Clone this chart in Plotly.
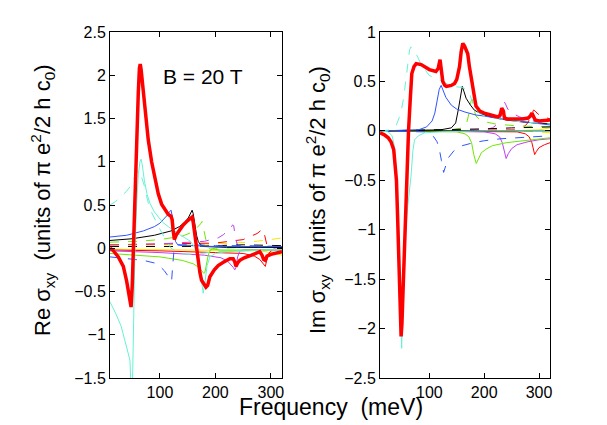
import plotly.graph_objects as go

# ---------------- Re sigma_xy (left panel) ----------------
re_total_f = [10, 15, 25, 34, 40, 44, 46, 48, 50, 52, 55, 58, 61, 63, 64.5, 66, 69, 73, 79, 85, 91, 97, 103, 109, 115,
              120, 122, 124, 126, 130, 136, 142, 150, 156, 158, 160, 163, 166, 169, 172, 175, 180, 183, 186, 190, 198,
              205, 215, 226, 232, 235, 237, 240, 244, 252, 265, 280, 284, 287, 290, 293, 300, 310, 320]
re_total_v = [0.0, -0.02, -0.1, -0.21, -0.38, -0.52, -0.6, -0.68, -0.45, -0.02, 0.7, 1.2, 1.8, 2.08, 2.13, 2.07, 1.88,
              1.62, 1.25, 1.0, 0.8, 0.63, 0.51, 0.44, 0.39, 0.37, 0.33, 0.2, 0.1, 0.16, 0.22, 0.27, 0.32, 0.35, 0.36,
              0.3, 0.15, -0.02, -0.17, -0.28, -0.37, -0.41, -0.45, -0.43, -0.33, -0.25, -0.2, -0.16, -0.12, -0.12,
              -0.16, -0.21, -0.17, -0.14, -0.11, -0.08, -0.04, -0.08, -0.13, -0.14, -0.09, -0.07, -0.05, -0.04]

re_cyan_f = [10, 20, 30, 38, 43, 46, 48, 49.5, 51, 53, 55, 58, 61, 64, 66, 68, 72, 77, 82, 90, 97, 105, 115, 125, 135,
             145, 155, 162, 167, 171, 174, 176, 178, 181, 185, 190, 200, 220, 250, 290, 320]
re_cyan_v = [-0.62, -0.75, -0.9, -1.08, -1.22, -1.3, -1.55, -1.9, -1.4, -0.6, 0.0, 0.5, 0.85, 1.0, 1.03, 0.97, 0.78,
             0.62, 0.52, 0.42, 0.36, 0.3, 0.25, 0.2, 0.16, 0.12, 0.08, 0.02, -0.08, -0.2, -0.33, -0.45, -0.52, -0.4,
             -0.2, -0.1, -0.06, -0.04, -0.03, -0.02, -0.02]

re_cyan_d_f = [10, 20, 30, 40, 46, 50, 53, 56, 60, 64, 68, 72, 76, 80, 86, 92, 100, 110, 120, 135, 150, 175, 200, 250, 320]
re_cyan_d_v = [0.5, 0.54, 0.6, 0.66, 0.71, 0.75, 0.8, 0.85, 0.9, 0.88, 0.8, 0.72, 0.6, 0.5, 0.4, 0.33, 0.22, 0.1, 0.0,
               -0.06, -0.07, -0.06, -0.04, -0.03, -0.02]

re_blue_f = [10, 40, 70, 90, 100, 108, 113, 117, 120, 122, 124, 126, 128, 132, 140, 160, 200, 260, 320]
re_blue_v = [0.13, 0.15, 0.2, 0.25, 0.29, 0.34, 0.38, 0.42, 0.44, 0.38, 0.25, 0.15, 0.08, 0.04, 0.03, 0.03, 0.02, 0.02, 0.02]

re_blue_d_f = [10, 40, 70, 90, 100, 108, 114, 118, 121, 123, 125, 128, 132, 140, 160, 200, 260, 320]
re_blue_d_v = [-0.1, -0.12, -0.14, -0.17, -0.21, -0.26, -0.31, -0.35, -0.38, -0.2, -0.05, 0.02, 0.04, 0.04, 0.04, 0.03,
               0.03, 0.02]

re_black_f = [10, 50, 90, 120, 135, 145, 151, 155, 158, 160, 163, 166, 169, 173, 180, 220, 320]
re_black_v = [0.09, 0.11, 0.15, 0.2, 0.25, 0.3, 0.35, 0.4, 0.44, 0.4, 0.27, 0.15, 0.08, 0.04, 0.02, 0.01, 0.01]

re_black_d_f = [10, 100, 160, 200, 250, 320]
re_black_d_v = [0.02, 0.02, 0.02, 0.03, 0.04, 0.03]

re_green_f = [10, 60, 100, 140, 160, 170, 175, 179, 181, 184, 187, 191, 195, 210, 250, 320]
re_green_v = [-0.06, -0.08, -0.1, -0.14, -0.18, -0.22, -0.26, -0.29, -0.28, -0.18, -0.08, -0.02, -0.01, -0.02, -0.02, -0.02]

re_green_d_f = [10, 60, 100, 140, 160, 168, 173, 176, 178, 181, 185, 190, 200, 250, 320]
re_green_d_v = [0.07, 0.08, 0.1, 0.14, 0.19, 0.24, 0.28, 0.31, 0.25, 0.12, 0.03, -0.01, 0.0, 0.01, 0.01]

re_mag_f = [10, 100, 180, 210, 222, 228, 232, 235, 237, 240, 244, 250, 280, 320]
re_mag_v = [-0.03, -0.05, -0.08, -0.11, -0.15, -0.19, -0.22, -0.25, -0.22, -0.1, -0.03, -0.02, -0.02, -0.02]

re_mag_d_f = [10, 100, 180, 205, 215, 222, 228, 231, 233, 236, 240, 246, 260, 320]
re_mag_d_v = [0.04, 0.05, 0.08, 0.12, 0.16, 0.2, 0.24, 0.27, 0.26, 0.12, 0.03, 0.0, 0.01, 0.01]

re_red_f = [10, 100, 200, 250, 270, 280, 285, 288, 290, 292, 295, 300, 320]
re_red_v = [-0.02, -0.03, -0.05, -0.06, -0.09, -0.13, -0.17, -0.2, -0.21, -0.15, -0.07, -0.03, -0.02]

re_red_d_f = [10, 100, 200, 250, 265, 275, 281, 285, 287, 290, 293, 300, 320]
re_red_d_v = [0.04, 0.05, 0.06, 0.1, 0.14, 0.17, 0.2, 0.22, 0.2, 0.1, 0.03, 0.0, 0.01]

re_yel_f = [10, 100, 200, 280, 300, 320]
re_yel_v = [-0.01, -0.015, -0.02, -0.03, -0.05, -0.08]

re_yel_d_f = [10, 100, 200, 260, 290, 310, 320]
re_yel_d_v = [0.03, 0.04, 0.05, 0.07, 0.09, 0.11, 0.12]

# ---------------- Im sigma_xy (right panel) ----------------
im_total_f = [10, 18, 25, 30, 35, 38.5, 40, 42, 44, 46, 48.5, 50, 52, 54, 56, 58, 60, 62, 65, 68, 72, 76, 85, 100, 112,
              116, 119.5, 122, 124.5, 128, 131, 140, 146, 150, 155, 158, 161, 164, 167, 170, 173, 176, 180, 185, 192,
              200, 212, 225, 229, 232, 235, 237, 242, 256, 270, 280, 284, 287, 290, 293, 300, 320]
im_total_v = [-0.02, -0.04, -0.07, -0.11, -0.19, -0.4, -0.5, -0.85, -1.24, -1.65, -2.08, -1.95, -1.6, -1.2, -0.85,
              -0.5, -0.22, 0.0, 0.3, 0.58, 0.65, 0.68, 0.67, 0.62, 0.6, 0.63, 0.72, 0.6, 0.5, 0.46, 0.45, 0.46, 0.48,
              0.52, 0.65, 0.8, 0.885, 0.86, 0.82, 0.78, 0.65, 0.55, 0.38, 0.25, 0.2, 0.18, 0.16, 0.14, 0.16, 0.23,
              0.2, 0.13, 0.12, 0.12, 0.12, 0.13, 0.15, 0.18, 0.14, 0.11, 0.1, 0.11]

im_cyan_f = [10, 25, 32, 36, 39, 42, 44.5, 47, 49.5, 52, 56, 60, 63, 66.5, 70, 73, 80, 91, 120, 200, 320]
im_cyan_v = [0.0, -0.01, -0.05, -0.15, -0.4, -0.8, -1.24, -1.75, -2.2, -1.6, -1.1, -0.8, -0.65, -0.46, -0.2, -0.09,
             -0.05, -0.02, -0.01, 0.0, 0.0]

im_cyan_d_f = [10, 30, 40, 48, 53, 57.5, 61, 64, 66.5, 70, 76, 85, 100, 125, 140, 160, 172, 178, 185, 200, 250, 320]
im_cyan_d_v = [0.0, 0.01, 0.06, 0.18, 0.33, 0.51, 0.7, 0.82, 0.85, 0.82, 0.78, 0.67, 0.56, 0.5, 0.45, 0.44, 0.4, 0.3,
               0.2, 0.15, 0.1, 0.07]

im_blue_f = [10, 80, 95, 105, 110, 115, 118, 121.5, 125, 130, 140, 150, 165, 185, 200, 230, 260, 290, 320]
im_blue_v = [0.0, 0.01, 0.04, 0.1, 0.18, 0.32, 0.42, 0.46, 0.41, 0.34, 0.26, 0.22, 0.19, 0.16, 0.15, 0.12, 0.1, 0.08, 0.06]

im_blue_d_f = [10, 90, 100, 108, 114, 118, 122, 126, 130, 135, 145, 160, 180, 200, 230, 260, 290, 320]
im_blue_d_v = [0.0, -0.01, -0.03, -0.06, -0.11, -0.18, -0.3, -0.42, -0.35, -0.27, -0.2, -0.15, -0.12, -0.1, -0.08,
               -0.07, -0.06, -0.05]

im_black_f = [10, 120, 140, 148, 153, 157, 160, 163, 167, 175, 182, 195, 213, 240, 270, 320]
im_black_v = [0.0, 0.01, 0.03, 0.08, 0.22, 0.38, 0.45, 0.4, 0.33, 0.26, 0.21, 0.17, 0.14, 0.11, 0.09, 0.07]

im_black_d_f = [10, 160, 200, 250, 320]
im_black_d_v = [0.0, 0.01, 0.02, 0.03, 0.04]

im_zero_f = [10, 320]
im_zero_v = [0.0, 0.0]

im_green_f = [10, 150, 165, 172, 177, 181, 185.5, 190, 195, 205, 215, 240, 270, 320]
im_green_v = [0.0, -0.01, -0.03, -0.06, -0.12, -0.24, -0.33, -0.27, -0.22, -0.18, -0.15, -0.12, -0.1, -0.07]

im_green_d_f = [10, 140, 160, 168, 172, 176, 178, 181, 185, 195, 220, 260, 320]
im_green_d_v = [0.0, 0.01, 0.03, 0.08, 0.17, 0.3, 0.32, 0.22, 0.15, 0.1, 0.07, 0.05, 0.04]

im_mag_f = [10, 200, 220, 228, 233, 237, 240, 244, 250, 260, 280, 300, 320]
im_mag_v = [0.0, -0.01, -0.03, -0.06, -0.12, -0.22, -0.28, -0.23, -0.18, -0.14, -0.11, -0.09, -0.08]

im_mag_d_f = [10, 200, 215, 225, 230, 233, 236, 239, 243, 250, 265, 290, 320]
im_mag_d_v = [0.0, 0.01, 0.03, 0.07, 0.14, 0.23, 0.3, 0.27, 0.22, 0.18, 0.14, 0.1, 0.08]

im_red_f = [10, 260, 275, 282, 287, 290, 292, 295, 300, 310, 320]
im_red_v = [0.0, -0.01, -0.03, -0.06, -0.12, -0.2, -0.24, -0.21, -0.17, -0.14, -0.12]

im_red_d_f = [10, 255, 270, 278, 283, 287, 290, 293, 298, 310, 320]
im_red_d_v = [0.0, 0.01, 0.03, 0.07, 0.12, 0.18, 0.21, 0.2, 0.17, 0.14, 0.12]

im_yel_f = [10, 250, 300, 320]
im_yel_v = [0.0, 0.0, 0.01, 0.03]

im_yel_d_f = [10, 250, 300, 320]
im_yel_d_v = [0.0, 0.0, -0.01, -0.02]

x_ticks = [100, 200, 300]
re_ticks = [-1.5, -1, -0.5, 0, 0.5, 1, 1.5, 2, 2.5]
im_ticks = [-2.5, -2, -1.5, -1, -0.5, 0, 0.5, 1]

AQUA = "#66f2d4"
BLUE = "#2f55ff"
GREEN = "#6ee800"
MAGENTA = "#c040f0"
RED = "#ff0000"
YELLOW = "#f2e600"
BLACK = "#000000"

# (f, v, colour, dash, width)
left_curves = [
    (re_yel_f, re_yel_v, YELLOW, "solid", 1),
    (re_yel_d_f, re_yel_d_v, YELLOW, "dash", 1),
    (re_red_f, re_red_v, RED, "solid", 1),
    (re_red_d_f, re_red_d_v, RED, "dash", 1),
    (re_mag_f, re_mag_v, MAGENTA, "solid", 1),
    (re_mag_d_f, re_mag_d_v, MAGENTA, "dash", 1),
    (re_green_f, re_green_v, GREEN, "solid", 1),
    (re_green_d_f, re_green_d_v, GREEN, "dash", 1),
    (re_black_d_f, re_black_d_v, BLACK, "dash", 1),
    (re_black_f, re_black_v, BLACK, "solid", 1),
    (re_blue_f, re_blue_v, BLUE, "solid", 1),
    (re_blue_d_f, re_blue_d_v, BLUE, "dash", 1),
    (re_cyan_d_f, re_cyan_d_v, AQUA, "dash", 1),
    (re_cyan_f, re_cyan_v, AQUA, "solid", 1),
    (re_total_f, re_total_v, RED, "solid", 3.5),
]

right_curves = [
    (im_yel_f, im_yel_v, YELLOW, "solid", 1),
    (im_yel_d_f, im_yel_d_v, YELLOW, "dash", 1),
    (im_red_f, im_red_v, RED, "solid", 1),
    (im_red_d_f, im_red_d_v, RED, "dash", 1),
    (im_mag_f, im_mag_v, MAGENTA, "solid", 1),
    (im_mag_d_f, im_mag_d_v, MAGENTA, "dash", 1),
    (im_green_f, im_green_v, GREEN, "solid", 1),
    (im_green_d_f, im_green_d_v, GREEN, "dash", 1),
    (im_black_d_f, im_black_d_v, BLACK, "dash", 1),
    (im_zero_f, im_zero_v, BLACK, "solid", 1),
    (im_black_f, im_black_v, BLACK, "solid", 1),
    (im_blue_f, im_blue_v, BLUE, "solid", 1),
    (im_blue_d_f, im_blue_d_v, BLUE, "dash", 1),
    (im_cyan_d_f, im_cyan_d_v, AQUA, "dash", 1),
    (im_cyan_f, im_cyan_v, AQUA, "solid", 1),
    (im_total_f, im_total_v, RED, "solid", 3.5),
]

fig = go.Figure()

for curves, xa, ya in [(left_curves, "x", "y"), (right_curves, "x2", "y2")]:
    for f, v, color, dash, width in curves:
        assert len(f) == len(v)
        fig.add_trace(go.Scatter(x=f, y=v, mode="lines", xaxis=xa, yaxis=ya, showlegend=False,
                                 line=dict(color=color, dash=dash, width=width), hoverinfo="skip"))

FONT = "Liberation Sans, Arial, Helvetica, sans-serif"
W, H = 607, 425

axis_common = dict(showline=True, linecolor="black", linewidth=1, mirror="ticks", ticks="inside", ticklen=5,
                   tickcolor="black", showgrid=False, zeroline=False, automargin=False,
                   tickfont=dict(family=FONT, size=16, color="black"))

fig.update_layout(
    width=W, height=H,
    margin=dict(l=0, r=0, t=0, b=0),
    paper_bgcolor="white", plot_bgcolor="white",
    font=dict(family=FONT, color="black"),
    xaxis=dict(domain=[110 / W, 282 / W], range=[10, 320], tickvals=x_ticks, anchor="y", **axis_common),
    yaxis=dict(domain=[1 - 378 / H, 1 - 32 / H], range=[-1.5, 2.5], tickvals=re_ticks, anchor="x", **axis_common),
    xaxis2=dict(domain=[380 / W, 550 / W], range=[10, 320], tickvals=x_ticks, anchor="y2", **axis_common),
    yaxis2=dict(domain=[1 - 378 / H, 1 - 32 / H], range=[-2.5, 1], tickvals=im_ticks, anchor="x2", **axis_common),
    annotations=[
        dict(text="B = 20 T", x=203 / W, y=1 - 77 / H, xref="paper", yref="paper", showarrow=False,
             font=dict(size=21, family=FONT), xanchor="center", yanchor="middle"),
        dict(text="Re σ<sub>xy</sub>  (units of π e<sup>2</sup>/2 h c<sub>0</sub>)", x=42 / W, y=1 - 200 / H,
             xref="paper", yref="paper", showarrow=False, textangle=-90,
             font=dict(size=22, family=FONT), xanchor="center", yanchor="middle"),
        dict(text="Im σ<sub>xy</sub>  (units of π e<sup>2</sup>/2 h c<sub>0</sub>)", x=317 / W, y=1 - 200 / H,
             xref="paper", yref="paper", showarrow=False, textangle=-90,
             font=dict(size=22, family=FONT), xanchor="center", yanchor="middle"),
        dict(text="Frequency  (meV)", x=331 / W, y=1 - 407 / H, xref="paper", yref="paper", showarrow=False,
             font=dict(size=23, family=FONT), xanchor="center", yanchor="middle"),
    ],
)

# the page's default 8px body margin would shift the figure off the window
fig.write_html("out.html", config={"displayModeBar": False},
               post_script="document.body.style.margin='0px';")
